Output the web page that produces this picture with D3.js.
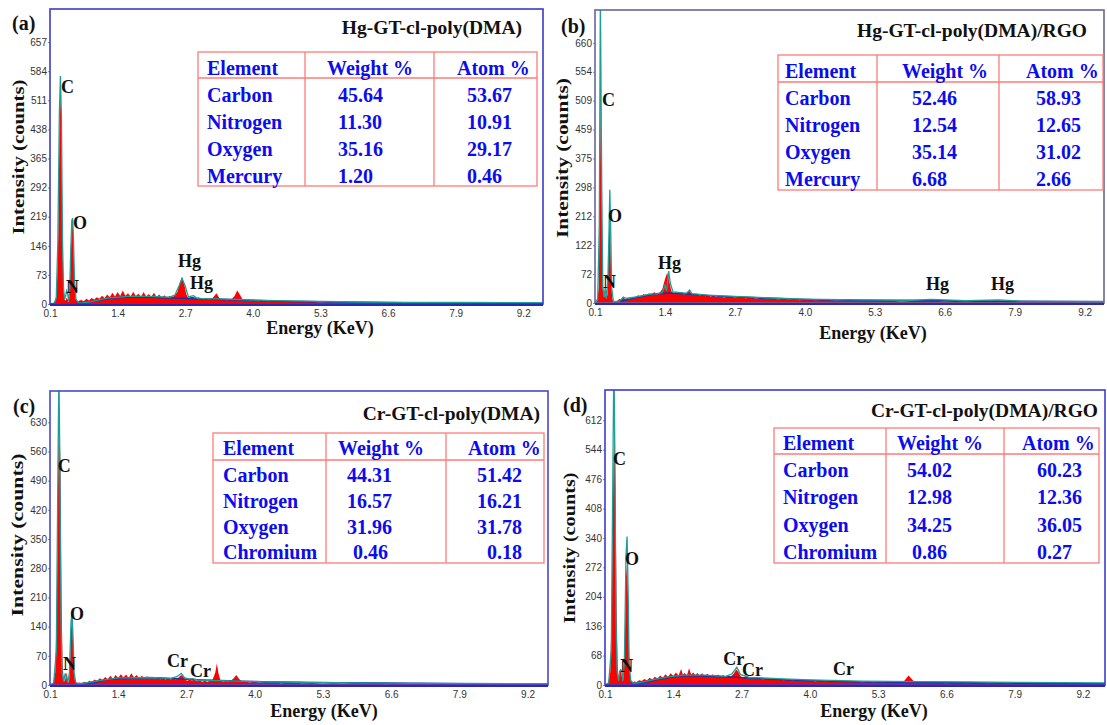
<!DOCTYPE html>
<html>
<head>
<meta charset="utf-8">
<style>
  body { margin: 0; background: #fff; }
  svg text { font-family: "Liberation Serif", "Times New Roman", serif; }
  .tick text { font-family: "Liberation Sans", Arial, sans-serif; font-size: 10px; fill: #333; }
  .tick line { stroke: #888; }
</style>
<script src="https://cdn.jsdelivr.net/npm/d3@7"></script>
</head>
<body>
<div id="container"></div>
<script>

// ---- data ----
const xTickVals = [0.1, 1.4, 2.7, 4.0, 5.3, 6.6, 7.9, 9.2];

const yLabA = [0, 73, 146, 219, 292, 365, 438, 511, 584, 657];
const yLabB = [0, 72, 122, 212, 298, 375, 459, 509, 554, 660];
const yLabC = [0, 70, 140, 210, 280, 350, 420, 490, 560, 630];
const yLabD = [0, 68, 136, 204, 272, 340, 408, 476, 544, 612];

const titles = ["Hg-GT-cl-poly(DMA)", "Hg-GT-cl-poly(DMA)/RGO", "Cr-GT-cl-poly(DMA)", "Cr-GT-cl-poly(DMA)/RGO"];
const tableHead = ["Element", "Weight %", "Atom %"];
const elemsHg = ["Carbon", "Nitrogen", "Oxygen", "Mercury"];
const elemsCr = ["Carbon", "Nitrogen", "Oxygen", "Chromium"];
const weightA = [45.64, 11.30, 35.16, 1.20], atomA = [53.67, 10.91, 29.17, 0.46];
const weightB = [52.46, 12.54, 35.14, 6.68], atomB = [58.93, 12.65, 31.02, 2.66];
const weightC = [44.31, 16.57, 31.96, 0.46], atomC = [51.42, 16.21, 31.78, 0.18];
const weightD = [54.02, 12.98, 34.25, 0.86], atomD = [60.23, 12.36, 36.05, 0.27];

// spectra: [energy keV, counts]
const specA = [[0.10,0],[0.16,2],[0.20,6],[0.23,30],[0.26,180],[0.28,420],[0.30,540],[0.32,430],[0.34,150],[0.36,40],[0.38,12],[0.40,8],[0.42,16],[0.44,12],[0.46,4],[0.48,30],[0.50,130],[0.52,195],[0.54,200],[0.56,110],[0.58,30],[0.60,10],[0.63,6],[0.66,8],
  [0.70,10],[0.75,7],[0.80,13],[0.85,9],[0.90,15],[0.95,11],[1.00,17],[1.05,13],[1.10,21],[1.15,15],[1.20,24],[1.25,17],[1.30,28],[1.35,19],[1.40,30],[1.45,20],[1.50,34],[1.55,21],[1.60,27],[1.65,19],[1.70,31],[1.75,20],[1.80,26],[1.85,18],[1.90,30],[1.95,19],[2.00,25],[2.05,18],[2.10,28],[2.15,17],[2.20,24],[2.25,16],[2.30,22],[2.35,15],[2.40,20],[2.45,16],[2.50,22],[2.55,30],[2.60,55],[2.64,68],[2.68,50],[2.72,25],[2.76,14],[2.80,17],[2.85,18],[2.90,14],[2.95,12],[3.00,15],[3.05,11],[3.10,14],[3.15,10],[3.20,13],[3.25,18],[3.30,27],[3.35,16],[3.40,10],[3.45,12],[3.50,9],[3.55,11],[3.60,13],[3.65,20],[3.70,34],[3.75,24],[3.80,12],[3.85,9],[3.90,10],[3.95,8],[4.00,10],[4.10,7],[4.20,9],[4.30,6],[4.40,8],[4.50,5],[4.70,7],[4.90,5],[5.10,6],[5.30,4],[5.50,5],[5.70,3],[5.90,5],[6.10,3],[6.30,4],[6.50,3],[6.70,4],[6.90,2],[7.10,3],[7.30,2],[7.50,3],[7.70,2],[7.90,3],[8.10,2],[8.30,3],[8.50,2],[8.70,2],[8.90,3],[9.10,2],[9.30,2],[9.60,2]];
const fitA = [[0.10,0],[0.18,2],[0.22,15],[0.25,150],[0.28,480],[0.30,572],[0.32,470],[0.34,160],[0.36,40],[0.38,12],[0.40,20],[0.42,33],[0.44,25],[0.46,8],[0.48,40],[0.50,140],[0.52,210],[0.535,215],[0.55,170],[0.57,60],[0.60,12],[0.65,3],[0.70,2],[0.90,6],[1.20,15],[1.60,19],[2.00,19],[2.40,17],[2.50,22],[2.58,45],[2.64,64],[2.70,45],[2.76,18],[2.82,20],[2.86,21],[2.92,15],[3.00,14],[3.50,12],[4.00,10],[5.00,7],[6.00,5],[7.00,4],[8.00,4],[9.60,3]];
const bgA = [[0.6,0],[0.8,3],[1.0,8],[1.2,13],[1.4,16],[1.6,17],[1.8,17],[2.0,17],[2.2,16],[2.5,15],[2.8,14],[3.0,13],[3.5,11],[4.0,9],[4.5,7],[5.0,6],[6.0,4],[7.0,3],[8.0,3],[9.6,2]];

const specB = [[0.10,0],[0.14,5],[0.17,40],[0.19,300],[0.205,510],[0.22,380],[0.235,120],[0.25,30],[0.27,15],[0.29,22],[0.31,10],[0.33,20],[0.35,120],[0.37,218],[0.385,180],[0.40,60],[0.42,12],[0.45,2],[0.50,4],[0.55,10],[0.60,9],[0.63,18],[0.66,8],[0.70,12],[0.75,10],[0.80,15],[0.85,12],[0.90,20],[0.95,15],[1.00,23],[1.05,17],[1.10,25],[1.15,20],[1.20,28],[1.25,21],[1.30,26],[1.35,35],[1.40,60],[1.44,77],[1.48,55],[1.52,30],[1.56,24],[1.60,28],[1.65,22],[1.70,27],[1.75,21],[1.80,25],[1.85,31],[1.90,22],[1.95,20],[2.00,24],[2.05,18],[2.10,22],[2.15,17],[2.20,20],[2.25,16],[2.30,19],[2.35,15],[2.40,18],[2.50,14],[2.60,17],[2.70,13],[2.80,15],[2.90,12],[3.00,14],[3.10,11],[3.20,13],[3.30,10],[3.40,12],[3.50,9],[3.60,11],[3.70,8],[3.80,10],[3.90,7],[4.00,9],[4.20,7],[4.40,8],[4.60,6],[4.80,7],[5.00,5],[5.20,6],[5.40,5],[5.60,6],[5.80,4],[6.00,5],[6.20,6],[6.30,10],[6.40,6],[6.60,4],[6.80,5],[7.00,4],[7.20,5],[7.40,4],[7.55,7],[7.70,4],[7.90,3],[8.20,4],[8.50,3],[8.80,3],[9.10,2],[9.56,2]];
const fitB = [[0.10,0],[0.15,10],[0.18,200],[0.20,780],[0.225,300],[0.245,40],[0.27,15],[0.29,40],[0.31,12],[0.34,60],[0.36,180],[0.375,287],[0.39,200],[0.41,40],[0.44,5],[0.55,4],[0.62,14],[0.70,12],[0.90,16],[1.10,22],[1.25,24],[1.35,26],[1.40,45],[1.43,30],[1.47,81],[1.50,50],[1.55,28],[1.80,25],[1.86,33],[1.90,24],[2.20,20],[2.80,16],[3.50,12],[4.00,10],[5.00,8],[6.00,7],[6.35,9],[7.00,6],[7.60,8],[8.00,5],[9.56,4]];
const bgB = [[0.45,0],[0.6,5],[0.8,12],[1.0,18],[1.2,23],[1.5,25],[1.8,23],[2.2,19],[2.8,15],[3.5,11],[4.0,9],[5.0,7],[6.0,6],[7.0,5],[8.0,4],[9.56,3]];

const specC = [[0.10,0],[0.16,5],[0.20,30],[0.23,200],[0.26,560],[0.28,640],[0.30,520],[0.32,200],[0.34,50],[0.36,15],[0.38,8],[0.40,20],[0.42,30],[0.44,12],[0.46,4],[0.48,40],[0.50,130],[0.52,165],[0.54,100],[0.56,25],[0.58,8],[0.62,5],[0.66,6],[0.70,4],[0.75,8],[0.80,6],[0.85,10],[0.90,8],[0.95,13],[1.00,10],[1.05,16],[1.10,12],[1.15,19],[1.20,14],[1.25,22],[1.30,15],[1.35,24],[1.40,17],[1.45,26],[1.50,18],[1.55,25],[1.60,17],[1.65,28],[1.70,18],[1.75,24],[1.80,16],[1.85,22],[1.90,16],[1.95,21],[2.00,15],[2.05,20],[2.10,14],[2.15,19],[2.20,14],[2.25,18],[2.30,13],[2.35,17],[2.40,13],[2.45,15],[2.50,13],[2.55,18],[2.60,24],[2.64,20],[2.68,12],[2.72,10],[2.76,13],[2.80,11],[2.85,12],[2.90,9],[2.95,11],[3.00,8],[3.05,10],[3.10,8],[3.15,11],[3.20,13],[3.25,30],[3.28,52],[3.31,28],[3.35,10],[3.40,8],[3.45,9],[3.50,7],[3.55,11],[3.60,16],[3.65,24],[3.70,15],[3.75,9],[3.80,7],[3.85,8],[3.90,6],[4.00,8],[4.10,5],[4.20,7],[4.30,5],[4.40,6],[4.50,4],[4.70,6],[4.90,4],[5.10,5],[5.30,3],[5.50,4],[5.70,3],[5.90,4],[6.10,3],[6.30,4],[6.50,2],[6.70,3],[6.90,2],[7.10,3],[7.30,2],[7.50,3],[7.70,2],[7.90,2],[8.20,3],[8.50,2],[8.80,2],[9.10,2],[9.40,2],[9.62,2]];
const fitC = [[0.10,0],[0.17,5],[0.22,80],[0.25,500],[0.27,760],[0.29,500],[0.31,150],[0.33,30],[0.36,8],[0.39,28],[0.41,20],[0.44,6],[0.47,30],[0.50,150],[0.52,175],[0.54,110],[0.56,30],[0.59,6],[0.65,3],[0.80,5],[1.00,10],[1.40,17],[2.00,18],[2.40,16],[2.52,20],[2.60,28],[2.66,18],[2.75,14],[2.82,15],[2.90,12],[3.50,10],[4.00,8],[5.00,6],[6.00,5],[7.00,4],[8.00,4],[9.62,3]];
const bgC = [[0.6,0],[0.8,3],[1.0,8],[1.2,13],[1.5,16],[1.8,17],[2.1,17],[2.5,15],[3.0,12],[3.5,10],[4.0,8],[5.0,6],[6.0,5],[7.0,4],[8.0,3],[9.62,3]];

const specD = [[0.10,0],[0.16,5],[0.20,30],[0.23,200],[0.26,500],[0.28,580],[0.30,450],[0.32,180],[0.34,45],[0.36,15],[0.38,30],[0.40,38],[0.42,20],[0.44,8],[0.46,30],[0.48,120],[0.50,250],[0.52,280],[0.54,200],[0.56,60],[0.58,15],[0.62,6],[0.66,8],[0.70,7],[0.75,11],[0.80,9],[0.85,14],[0.90,11],[0.95,17],[1.00,13],[1.05,19],[1.10,15],[1.15,22],[1.20,17],[1.25,25],[1.30,19],[1.35,27],[1.40,21],[1.45,29],[1.50,22],[1.55,37],[1.58,24],[1.62,28],[1.66,22],[1.70,39],[1.74,24],[1.78,29],[1.82,23],[1.86,28],[1.90,22],[1.95,27],[2.00,21],[2.05,26],[2.10,20],[2.15,25],[2.20,19],[2.25,24],[2.30,19],[2.35,23],[2.40,18],[2.45,22],[2.50,20],[2.55,26],[2.60,36],[2.64,30],[2.68,20],[2.72,17],[2.77,20],[2.82,15],[2.88,17],[2.94,14],[3.00,16],[3.10,13],[3.20,15],[3.30,12],[3.40,14],[3.50,11],[3.60,13],[3.70,10],[3.80,12],[3.90,9],[4.00,11],[4.10,8],[4.20,10],[4.30,8],[4.40,9],[4.50,12],[4.60,8],[4.70,9],[4.80,7],[4.90,8],[5.00,6],[5.10,8],[5.20,6],[5.30,7],[5.40,6],[5.50,7],[5.60,5],[5.70,7],[5.80,10],[5.88,22],[5.94,14],[6.00,6],[6.20,5],[6.40,6],[6.60,4],[6.80,5],[7.00,4],[7.20,5],[7.40,4],[7.60,5],[7.80,3],[8.00,4],[8.30,3],[8.60,4],[8.90,3],[9.20,3],[9.62,3]];
const fitD = [[0.10,0],[0.17,5],[0.22,80],[0.25,500],[0.27,760],[0.29,500],[0.31,150],[0.33,30],[0.36,10],[0.38,32],[0.40,35],[0.42,32],[0.44,10],[0.47,60],[0.50,300],[0.52,343],[0.54,220],[0.56,50],[0.59,10],[0.65,4],[0.80,6],[1.00,12],[1.30,19],[1.60,23],[2.00,23],[2.40,20],[2.52,26],[2.61,41],[2.68,24],[2.77,21],[2.85,17],[3.00,17],[3.50,14],[4.00,12],[5.00,9],[6.00,8],[7.00,7],[8.00,6],[9.62,5]];
const bgD = [[0.6,0],[0.8,4],[1.0,10],[1.3,17],[1.6,21],[1.9,21],[2.2,20],[2.6,18],[3.0,15],[3.5,12],[4.0,10],[5.0,7],[6.0,6],[7.0,5],[8.0,4],[9.62,3]];

// peak annotations: [text, energy, counts]
const peaksA = [["C",0.31,530],["O",0.54,188],["N",0.41,28],["Hg",2.56,93],["Hg",2.79,38]];
const peaksB = [["C",0.23,500],["O",0.34,206],["N",0.25,38],["Hg",1.27,86],["Hg",6.25,33],["Hg",7.46,33]];
const peaksC = [["C",0.25,511],["O",0.48,156],["N",0.35,36],["Cr",2.33,43],["Cr",2.77,19]];
const peaksD = [["C",0.25,509],["O",0.48,278],["N",0.39,30],["Cr",2.35,46],["Cr",2.71,21],["Cr",4.44,23]];

// ---- layout ----
const W = 1107, H = 725;
const svg = d3.select('#container').append('svg').attr('width', W).attr('height', H);

const panels = [
  { id: 'a', tag: '(a)', title: titles[0], spec: specA, fit: fitA, bg: bgA, yLab: yLabA, yStep: 73, yMax: 740, xMax: 9.58,
    peaks: peaksA, elems: elemsHg, weight: weightA, atom: atomA,
    box: [50, 543, 9, 304], frame: '#3b3bc4',
    tagPos: [12, 30], titlePos: [522, 34], xTitle: [320, 334], yTitle: [24, 157, 155],
    tbl: { x0: 198, x1: 537, y0: 52, yh: 78, y1: 186, c1: 305, c2: 434, tx: [207, 327, 338, 457, 467], hb: 75, ind: [0, 0] } },
  { id: 'b', tag: '(b)', title: titles[1], spec: specB, fit: fitB, bg: bgB, yLab: yLabB, yStep: 73.3, yMax: 743, xMax: 9.56,
    peaks: peaksB, elems: elemsHg, weight: weightB, atom: atomB,
    box: [595, 1104, 10, 303], frame: '#66669a',
    tagPos: [561, 33], titlePos: [1087, 37], xTitle: [873, 339], yTitle: [568, 158, 160],
    tbl: { x0: 778, x1: 1103, y0: 55, yh: 82, y1: 190, c1: 877, c2: 999, tx: [785, 902, 912, 1026, 1036], hb: 78, ind: [0, 0] } },
  { id: 'c', tag: '(c)', title: titles[2], spec: specC, fit: fitC, bg: bgC, yLab: yLabC, yStep: 70, yMax: 705, xMax: 9.59,
    peaks: peaksC, elems: elemsCr, weight: weightC, atom: atomC,
    box: [50, 548, 391, 685], frame: '#4848cc',
    tagPos: [13, 413], titlePos: [540, 420], xTitle: [324, 717], yTitle: [23, 535, 163],
    tbl: { x0: 213, x1: 544, y0: 433, yh: 460, y1: 563, c1: 326, c2: 446, tx: [223, 338, 347, 468, 477], hb: 455, ind: [6, 10] } },
  { id: 'd', tag: '(d)', title: titles[3], spec: specD, fit: fitD, bg: bgD, yLab: yLabD, yStep: 68, yMax: 682, xMax: 9.62,
    peaks: peaksD, elems: elemsCr, weight: weightD, atom: atomD,
    box: [605, 1105, 390, 685], frame: '#3b3bd0',
    tagPos: [563, 412], titlePos: [1098, 417], xTitle: [874, 717], yTitle: [575, 548, 151],
    tbl: { x0: 774, x1: 1099, y0: 428, yh: 454, y1: 563, c1: 886, c2: 1004, tx: [783, 897, 907, 1022, 1037], hb: 450, ind: [5, 0] } }
];

panels.forEach(p => {
  const [L, R, T, B] = p.box;
  const x = d3.scaleLinear().domain([0.1, p.xMax]).range([L, R]);
  const y = d3.scaleLinear().domain([0, p.yMax]).range([B, T]);

  svg.append('clipPath').attr('id', 'clip' + p.id)
    .append('rect').attr('x', L).attr('y', T).attr('width', R - L).attr('height', B - T);
  const g = svg.append('g').attr('clip-path', `url(#clip${p.id})`);

  g.append('path').datum(p.spec)
    .attr('d', d3.area().x(d => x(d[0])).y0(y(0)).y1(d => y(d[1])))
    .attr('fill', '#ff0000');
  g.append('path').datum(p.bg)
    .attr('d', d3.line().x(d => x(d[0])).y(d => y(d[1])).curve(d3.curveMonotoneX))
    .attr('fill', 'none').attr('stroke', '#1c32a8').attr('stroke-width', 1.6);
  g.append('path').datum(p.fit)
    .attr('d', d3.line().x(d => x(d[0])).y(d => y(d[1])))
    .attr('fill', 'none').attr('stroke', '#1b9f97').attr('stroke-width', 1.3);

  // axes
  svg.append('g').attr('transform', `translate(0,${B})`)
    .call(d3.axisBottom(x).tickValues(xTickVals).tickFormat(d3.format('.1f')).tickSize(2).tickPadding(4))
    .call(a => a.select('.domain').remove());
  const n = p.yLab.length;
  const yt = d3.scaleLinear().domain([0, n - 1]).range([y(0), y(p.yStep * (n - 1))]);
  svg.append('g').attr('transform', `translate(${L},0)`)
    .call(d3.axisLeft(yt).tickValues(d3.range(n)).tickFormat(i => p.yLab[i]).tickSize(2).tickPadding(1))
    .call(a => a.select('.domain').remove());

  // frame
  svg.append('rect').attr('x', L).attr('y', T).attr('width', R - L).attr('height', B - T)
    .attr('fill', 'none').attr('stroke', p.frame).attr('stroke-width', 1.6);
  svg.append('line').attr('x1', L).attr('x2', R).attr('y1', B + 1).attr('y2', B + 1)
    .attr('stroke', '#2a2ab0').attr('stroke-width', 2);

  // peak labels
  svg.selectAll(null).data(p.peaks).enter().append('text')
    .attr('x', d => x(d[1])).attr('y', d => y(d[2]))
    .attr('font-size', 18).attr('font-weight', 'bold').attr('fill', '#111')
    .text(d => d[0]);

  // texts
  svg.append('text').attr('x', p.tagPos[0]).attr('y', p.tagPos[1])
    .attr('font-size', 20).attr('font-weight', 'bold').attr('fill', '#111').text(p.tag);
  svg.append('text').attr('x', p.titlePos[0]).attr('y', p.titlePos[1]).attr('text-anchor', 'end')
    .attr('font-size', 19.5).attr('font-weight', 'bold').attr('fill', '#111').text(p.title);
  svg.append('text').attr('x', p.xTitle[0]).attr('y', p.xTitle[1]).attr('text-anchor', 'middle')
    .attr('font-size', 18).attr('font-weight', 'bold').attr('fill', '#111').text('Energy (KeV)');
  svg.append('text').attr('transform', `translate(${p.yTitle[0]},${p.yTitle[1]}) rotate(-90)`)
    .attr('text-anchor', 'middle').attr('font-size', 17).attr('font-weight', 'bold').attr('fill', '#111')
    .attr('textLength', p.yTitle[2]).attr('lengthAdjust', 'spacingAndGlyphs')
    .text('Intensity (counts)');

  // composition table
  const t = p.tbl;
  const tg = svg.append('g');
  tg.append('rect').attr('x', t.x0).attr('y', t.y0).attr('width', t.x1 - t.x0).attr('height', t.y1 - t.y0)
    .attr('fill', 'none').attr('stroke', '#ff7a7a').attr('stroke-width', 1.3);
  tg.append('line').attr('x1', t.x0).attr('x2', t.x1).attr('y1', t.yh).attr('y2', t.yh).attr('stroke', '#ff7a7a').attr('stroke-width', 1.3);
  [t.c1, t.c2].forEach(c => tg.append('line').attr('x1', c).attr('x2', c).attr('y1', t.y0).attr('y2', t.y1)
    .attr('stroke', '#ff7a7a').attr('stroke-width', 1.3));
  const tf = s => s.attr('font-size', 20).attr('font-weight', 'bold').attr('fill', '#0c0cec');
  [0, 1, 3].forEach((k, i) => tg.append('text').attr('x', t.tx[k]).attr('y', t.hb).text(tableHead[i]).call(tf));
  const rowStep = (t.y1 - t.yh) / p.elems.length;
  p.elems.forEach((el, i) => {
    const by = t.hb + 27 + i * rowStep;
    tg.append('text').attr('x', t.tx[0]).attr('y', by).text(el).call(tf);
    tg.append('text').attr('x', t.tx[2] + (p.weight[i] < 1 ? t.ind[0] : 0)).attr('y', by).text(p.weight[i].toFixed(2)).call(tf);
    tg.append('text').attr('x', t.tx[4] + (p.atom[i] < 1 ? t.ind[1] : 0)).attr('y', by).text(p.atom[i].toFixed(2)).call(tf);
  });
});

</script>
</body>
</html>
